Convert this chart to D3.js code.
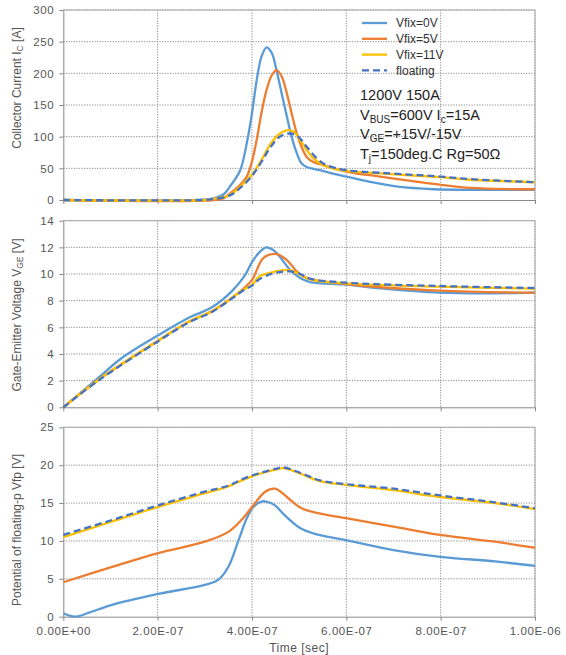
<!DOCTYPE html>
<html>
<head>
<meta charset="utf-8">
<style>
    body { margin: 0; background: #fff; }
    svg { font-family: "Liberation Sans", Arial, sans-serif; }
    .grid line { stroke: #8a8a8a; stroke-dasharray: 1.2,1.4; }
    .tick text { fill: #555; font-size: 11.5px; letter-spacing: 0.6px; }
    .axis path, .axis line { stroke: #888; }
    .ttl { fill: #555; font-size: 12px; }
    .leg { fill: #333; font-size: 12px; }
    .note { fill: #222; font-size: 14.5px; }
</style>
<script src="https://d3js.org/d3.v7.min.js"></script>
</head>
<body>
<svg width="566" height="655"></svg>
<script>
    // time in ns
    var xTicks = [0, 2e-7, 4e-7, 6e-7, 8e-7, 1e-6];

    // collector current Ic [A]
    var icV0 = [[0,0],[280,0],[318,2.7],[340,9],[353,21],[375,47],[389,90],[399,132],[410,189],[420,226],[431,241],[442,232],[452,205],[463,168],[474,132],[484,100],[495,74],[505,58],[516,52],[544,47],[565,43],[600,37],[648,29],[709,21],[786,17],[863,16],[1000,16]];
    var icV5 = [[0,0],[320,0],[340,3],[353,10],[375,24],[389,37],[399,58],[410,95],[420,137],[431,174],[442,197],[452,205],[463,195],[474,168],[484,137],[495,105],[505,84],[516,68],[530,60],[551,55],[600,45],[671,37],[748,29],[800,24],[863,19],[1000,17]];
    var icV11 = [[0,0],[300,0],[318,1.7],[353,8],[375,21],[399,39],[420,63],[438,87],[456,103],[474,110],[488,108],[502,95],[516,79],[530,66],[551,55],[571,50],[600,46],[671,42],[800,36],[863,32],[1000,28]];
    var icFl = [[0,0],[300,0],[318,1.5],[353,7],[375,19],[399,37],[420,60],[438,82],[459,100],[480,105],[498,100],[516,84],[537,66],[558,55],[600,47],[671,43],[800,37],[863,33],[1000,28]];

    // gate-emitter voltage VGE [V]
    var vgeV0 = [[0,0],[74,2.2],[124,3.7],[201,5.4],[265,6.7],[315,7.5],[357,8.7],[385,9.9],[400,10.9],[415,11.6],[430,12.0],[445,11.8],[459,11.3],[481,10.3],[502,9.7],[523,9.4],[599,9.2],[679,8.9],[797,8.6],[915,8.55],[1000,8.6]];
    var vgeV5 = [[0,0],[74,2.05],[201,5.0],[265,6.4],[315,7.2],[357,8.2],[385,9.0],[401,9.6],[424,11.2],[452,11.5],[474,11.05],[495,10.2],[516,9.7],[599,9.25],[797,8.75],[1000,8.6]];
    var vgeV11 = [[0,0],[74,2.05],[201,5.0],[265,6.4],[315,7.2],[357,8.2],[385,8.9],[401,9.2],[415,9.8],[440,10.1],[459,10.25],[481,10.3],[502,9.95],[523,9.6],[599,9.3],[797,9.05],[1000,8.9]];
    var vgeFl = [[0,0],[74,2.0],[201,4.95],[265,6.35],[315,7.15],[357,8.15],[385,8.85],[401,9.15],[415,9.6],[440,10.0],[459,10.15],[481,10.2],[502,10.0],[523,9.65],[599,9.35],[797,9.1],[1000,8.95]];

    // potential of floating-p Vfp [V]
    var vfpV0 = [[0,0.45],[25,0],[53,0.5],[100,1.5],[201,3.0],[300,4.2],[329,4.9],[350,6.6],[371,10.0],[389,13.0],[403,14.5],[420,15.2],[430,15.2],[449,14.7],[466,13.6],[502,11.7],[530,11.0],[599,10.1],[700,8.8],[799,7.9],[915,7.3],[1000,6.7]];
    var vfpV5 = [[0,4.55],[100,6.5],[201,8.4],[300,9.9],[350,11.2],[378,12.8],[403,14.7],[428,16.5],[449,16.9],[474,15.8],[502,14.4],[530,13.8],[599,13.0],[700,11.9],[799,10.8],[915,9.9],[1000,9.1]];
    var vfpV11 = [[0,10.5],[100,12.5],[201,14.5],[300,16.3],[350,17.2],[378,18.0],[403,18.6],[449,19.4],[466,19.6],[502,18.9],[544,17.9],[599,17.4],[700,16.7],[799,15.8],[915,15.0],[1000,14.2]];
    var vfpFl = [[0,10.8],[100,12.7],[201,14.7],[300,16.5],[350,17.3],[378,18.1],[403,18.7],[449,19.5],[466,19.7],[502,19.0],[544,18.0],[599,17.5],[700,16.9],[799,16.0],[915,15.1],[1000,14.3]];

    var names = ["Vfix=0V", "Vfix=5V", "Vfix=11V", "floating"];
    var colors = ["#5b9bd5", "#ed7d31", "#ffc000", "#4472c4"];

    var svg = d3.select("svg");
    var x = d3.scaleLinear().domain([0, 1e-6]).range([63.3, 535]);

    function sciFmt(v) {
        if (v === 0) return "0.00E+00";
        var e = Math.floor(Math.log10(v) + 1e-9);
        var m = v / Math.pow(10, e);
        return m.toFixed(2) + "E" + (e < 0 ? "-" : "+") + String(Math.abs(e)).padStart(2, "0");
    }

    function panel(top, bottom, ymax, ystep, series, showX) {
        var y = d3.scaleLinear().domain([0, ymax]).range([bottom, top]);
        var g = svg.append("g");
        var yt = d3.range(0, ymax + ystep / 2, ystep);

        // grid
        g.append("g").attr("class", "grid").selectAll("line").data(yt.slice(1)).enter().append("line")
         .attr("x1", x(0)).attr("x2", x(1e-6))
         .attr("y1", function(d){ return y(d); }).attr("y2", function(d){ return y(d); });
        g.append("g").attr("class", "grid").selectAll("line").data(xTicks.slice(1)).enter().append("line")
         .attr("x1", function(d){ return x(d); }).attr("x2", function(d){ return x(d); })
         .attr("y1", top).attr("y2", bottom);

        // frame top/right
        g.append("path").attr("d", "M" + x(0) + "," + top + "H" + x(1e-6) + "V" + bottom)
         .attr("fill", "none").attr("stroke", "#aaa");

        g.append("g").attr("class", "axis").attr("transform", "translate(" + x(0) + ",0)")
         .call(d3.axisLeft(y).tickValues(yt).tickSize(4).tickSizeOuter(0).tickPadding(5));
        g.append("g").attr("class", "axis").attr("transform", "translate(0," + bottom + ")")
         .call(d3.axisBottom(x).tickValues(xTicks).tickSize(4).tickSizeOuter(0).tickPadding(6)
               .tickFormat(showX ? sciFmt : function(){ return ""; }));

        var line = d3.line()
            .x(function(d){ return x(d[0] * 1e-9); })
            .y(function(d){ return y(Math.max(0, d[1])); })
            .curve(d3.curveCatmullRom.alpha(0.5));

        series.forEach(function(s, i) {
            g.append("path").datum(s)
             .attr("d", line)
             .attr("fill", "none")
             .attr("stroke", colors[i])
             .attr("stroke-width", 2.3)
             .attr("stroke-dasharray", i === 3 ? "7,4" : null);
        });
        return y;
    }

    panel(10, 200, 300, 50, [icV0, icV5, icV11, icFl], false);
    panel(220.7, 407.3, 14, 2, [vgeV0, vgeV5, vgeV11, vgeFl], false);
    panel(427.3, 616.7, 25, 5, [vfpV0, vfpV5, vfpV11, vfpFl], true);

    // axis titles
    function yTitle(cy, parts) {
        var t = svg.append("text").attr("class", "ttl")
            .attr("text-anchor", "middle")
            .attr("transform", "translate(21," + cy + ") rotate(-90)");
        parts.forEach(function(p) {
            var ts = t.append("tspan").text(p[0]);
            if (p[1]) ts.attr("font-size", "8.5px").attr("dy", 2);
            else if (p[2]) ts.attr("dy", -2);
        });
    }
    yTitle(88, [["Collector Current I"], ["C", true], [" [A]", false, true]]);
    yTitle(315, [["Gate-Emitter Voltage V"], ["GE", true], [" [V]", false, true]]);
    yTitle(530, [["Potential of floating-p Vfp [V]"]]);

    svg.append("text").attr("class", "ttl")
       .attr("x", (x(0) + x(1e-6)) / 2).attr("y", 652)
       .attr("text-anchor", "middle").style("letter-spacing", "0.5px")
       .text("Time [sec]");

    // legend
    var leg = svg.append("g");
    names.forEach(function(n, i) {
        var yy = 23 + i * 15.8;
        leg.append("line").attr("x1", 362).attr("x2", 387).attr("y1", yy).attr("y2", yy)
           .attr("stroke", colors[i]).attr("stroke-width", 2.3)
           .attr("stroke-dasharray", i === 3 ? "7,4" : null);
        leg.append("text").attr("class", "leg").attr("x", 396).attr("y", yy + 4.3).text(n);
    });

    // conditions
    var notes = [
        [["1200V 150A"]],
        [["V"], ["BUS", true], ["=600V I", false, true], ["c", true], ["=15A", false, true]],
        [["V"], ["GE", true], ["=+15V/-15V", false, true]],
        [["T"], ["j", true], ["=150deg.C Rg=50Ω", false, true]]
    ];
    notes.forEach(function(parts, i) {
        var t = svg.append("text").attr("class", "note").attr("x", 360).attr("y", 100 + i * 19.5);
        parts.forEach(function(p) {
            var ts = t.append("tspan").text(p[0]);
            if (p[1]) ts.attr("font-size", "10px").attr("dy", 3);
            else if (p[2]) ts.attr("dy", -3);
        });
    });
</script>
</body>
</html>
